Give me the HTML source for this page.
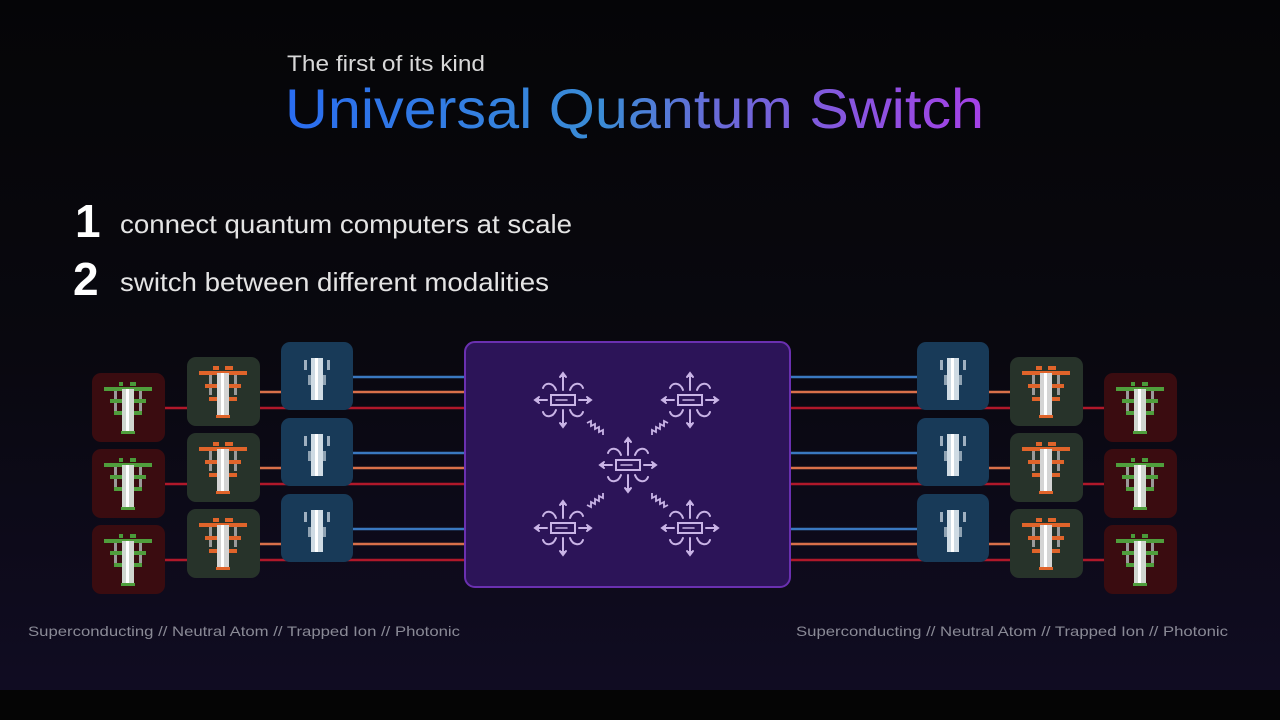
<!DOCTYPE html>
<html><head><meta charset="utf-8"><style>
html,body{margin:0;padding:0;background:#000;}
svg{display:block}
</style></head><body>
<svg width="1280" height="720" viewBox="0 0 1280 720" xmlns="http://www.w3.org/2000/svg">
<defs>
<linearGradient id="bg" x1="0" y1="0" x2="0" y2="1">
<stop offset="0" stop-color="#050507"/><stop offset="0.5" stop-color="#09080f"/><stop offset="1" stop-color="#100c22"/>
</linearGradient>
<linearGradient id="tg" x1="285" y1="0" x2="985" y2="0" gradientUnits="userSpaceOnUse">
<stop offset="0" stop-color="#2a6cf0"/><stop offset="0.45" stop-color="#3a8cd6"/><stop offset="0.62" stop-color="#6a6ad8"/><stop offset="1" stop-color="#a540e6"/>
</linearGradient>
<g id="redIcon">
<rect x="27" y="9" width="4" height="4" fill="#4a9a3a"/><rect x="38" y="9" width="6" height="4" fill="#4a9a3a"/>
<rect x="12" y="14" width="48" height="4" fill="#4f9e3c"/>
<rect x="22" y="18" width="3" height="22" fill="#9a9a9a"/><rect x="47" y="18" width="3" height="22" fill="#9a9a9a"/>
<rect x="18" y="26" width="36" height="4" fill="#4f9e3c"/>
<rect x="22" y="38" width="28" height="4" fill="#4f9e3c"/>
<rect x="30" y="16" width="12" height="44" fill="#cfd6cf"/><rect x="34" y="16" width="3" height="44" fill="#fff"/>
<rect x="29" y="58" width="14" height="3" fill="#4f9e3c"/>
</g>
<g id="greenIcon">
<rect x="26" y="9" width="6" height="4" fill="#e0642a"/><rect x="38" y="9" width="8" height="4" fill="#e0642a"/>
<rect x="12" y="14" width="48" height="4" fill="#e0642a"/>
<rect x="22" y="18" width="3" height="20" fill="#9a9a9a"/><rect x="47" y="18" width="3" height="20" fill="#9a9a9a"/>
<rect x="18" y="27" width="36" height="4" fill="#e0642a"/>
<rect x="22" y="40" width="28" height="4" fill="#e0642a"/>
<rect x="30" y="16" width="12" height="44" fill="#d4d4d4"/><rect x="34" y="16" width="3" height="44" fill="#fff"/>
<rect x="29" y="58" width="14" height="3" fill="#e0642a"/>
</g>
<g id="blueIcon">
<rect x="23" y="18" width="3" height="10" fill="#9fb0c0"/><rect x="46" y="18" width="3" height="10" fill="#9fb0c0"/>
<rect x="27" y="33" width="18" height="10" fill="#8fa2b2"/>
<rect x="30" y="16" width="12" height="42" fill="#cfdbe4"/><rect x="34" y="16" width="3" height="42" fill="#fff"/>
</g>
<g id="node" fill="none" stroke="#c9b4e6" stroke-width="2" stroke-linecap="round">
<rect x="-12" y="-5" width="24" height="10" fill="none"/>
<line x1="-7" y1="0" x2="4" y2="0" stroke-width="1.5"/>
<line x1="-16" y1="0" x2="-27" y2="0"/><path d="M-24,-3 L-28,0 L-24,3" fill="#c9b4e6"/>
<line x1="16" y1="0" x2="27" y2="0"/><path d="M24,-3 L28,0 L24,3" fill="#c9b4e6"/>
<line x1="0" y1="-10" x2="0" y2="-26"/><path d="M-3,-23 L0,-27 L3,-23" fill="#c9b4e6"/>
<line x1="0" y1="10" x2="0" y2="26"/><path d="M-3,23 L0,27 L3,23" fill="#c9b4e6"/>
<path d="M-7,-10 C-10,-18 -18,-18 -20,-12"/>
<path d="M7,-10 C10,-18 18,-18 20,-12"/>
<path d="M-7,10 C-10,18 -18,18 -20,12"/>
<path d="M7,10 C10,18 18,18 20,12"/>
</g>
</defs>
<rect width="1280" height="690" fill="url(#bg)"/>
<rect y="690" width="1280" height="30" fill="#050505"/>

<text x="287" y="71" font-family="Liberation Sans, sans-serif" font-size="22" fill="#d8d8d8" textLength="198" lengthAdjust="spacingAndGlyphs">The first of its kind</text>
<text x="285" y="128" font-family="Liberation Sans, sans-serif" font-size="56" fill="url(#tg)" textLength="699" lengthAdjust="spacingAndGlyphs">Universal Quantum Switch</text>

<text x="75" y="237" font-family="Liberation Sans, sans-serif" font-size="46" font-weight="bold" fill="#fff">1</text>
<text x="120" y="233" font-family="Liberation Sans, sans-serif" font-size="26" fill="#e4e4e4" textLength="452" lengthAdjust="spacingAndGlyphs">connect quantum computers at scale</text>
<text x="73" y="295" font-family="Liberation Sans, sans-serif" font-size="46" font-weight="bold" fill="#fff">2</text>
<text x="120" y="291" font-family="Liberation Sans, sans-serif" font-size="26" fill="#e4e4e4" textLength="429" lengthAdjust="spacingAndGlyphs">switch between different modalities</text>

<!-- lines -->
<g stroke-width="2.5">
<line x1="353" y1="377" x2="465" y2="377" stroke="#3a78c0"/>
<line x1="260" y1="392" x2="465" y2="392" stroke="#d9704a"/>
<line x1="165" y1="408" x2="465" y2="408" stroke="#b0182a"/>
<line x1="353" y1="453" x2="465" y2="453" stroke="#3a78c0"/>
<line x1="260" y1="468" x2="465" y2="468" stroke="#d9704a"/>
<line x1="165" y1="484" x2="465" y2="484" stroke="#b0182a"/>
<line x1="353" y1="529" x2="465" y2="529" stroke="#3a78c0"/>
<line x1="260" y1="544" x2="465" y2="544" stroke="#d9704a"/>
<line x1="165" y1="560" x2="465" y2="560" stroke="#b0182a"/>

<line x1="790" y1="377" x2="917" y2="377" stroke="#3a78c0"/>
<line x1="790" y1="392" x2="1010" y2="392" stroke="#d9704a"/>
<line x1="790" y1="408" x2="1104" y2="408" stroke="#b0182a"/>
<line x1="790" y1="453" x2="917" y2="453" stroke="#3a78c0"/>
<line x1="790" y1="468" x2="1010" y2="468" stroke="#d9704a"/>
<line x1="790" y1="484" x2="1104" y2="484" stroke="#b0182a"/>
<line x1="790" y1="529" x2="917" y2="529" stroke="#3a78c0"/>
<line x1="790" y1="544" x2="1010" y2="544" stroke="#d9704a"/>
<line x1="790" y1="560" x2="1104" y2="560" stroke="#b0182a"/>
</g>

<g>
<rect x="92" y="373" width="73" height="69" rx="9" fill="#3a0c10"/>
<rect x="92" y="449" width="73" height="69" rx="9" fill="#3a0c10"/>
<rect x="92" y="525" width="73" height="69" rx="9" fill="#3a0c10"/>
<rect x="187" y="357" width="73" height="69" rx="9" fill="#27332a"/>
<rect x="187" y="433" width="73" height="69" rx="9" fill="#27332a"/>
<rect x="187" y="509" width="73" height="69" rx="9" fill="#27332a"/>
<rect x="281" y="342" width="72" height="68" rx="9" fill="#183a58"/>
<rect x="281" y="418" width="72" height="68" rx="9" fill="#183a58"/>
<rect x="281" y="494" width="72" height="68" rx="9" fill="#183a58"/>
<use href="#redIcon" x="92" y="373"/><use href="#redIcon" x="92" y="449"/><use href="#redIcon" x="92" y="525"/>
<use href="#greenIcon" x="187" y="357"/><use href="#greenIcon" x="187" y="433"/><use href="#greenIcon" x="187" y="509"/>
<use href="#blueIcon" x="281" y="342"/><use href="#blueIcon" x="281" y="418"/><use href="#blueIcon" x="281" y="494"/>
</g>
<g>
<rect x="1104" y="373" width="73" height="69" rx="9" fill="#3a0c10"/>
<rect x="1104" y="449" width="73" height="69" rx="9" fill="#3a0c10"/>
<rect x="1104" y="525" width="73" height="69" rx="9" fill="#3a0c10"/>
<rect x="1010" y="357" width="73" height="69" rx="9" fill="#27332a"/>
<rect x="1010" y="433" width="73" height="69" rx="9" fill="#27332a"/>
<rect x="1010" y="509" width="73" height="69" rx="9" fill="#27332a"/>
<rect x="917" y="342" width="72" height="68" rx="9" fill="#183a58"/>
<rect x="917" y="418" width="72" height="68" rx="9" fill="#183a58"/>
<rect x="917" y="494" width="72" height="68" rx="9" fill="#183a58"/>
<use href="#redIcon" x="1104" y="373"/><use href="#redIcon" x="1104" y="449"/><use href="#redIcon" x="1104" y="525"/>
<use href="#greenIcon" x="1010" y="357"/><use href="#greenIcon" x="1010" y="433"/><use href="#greenIcon" x="1010" y="509"/>
<use href="#blueIcon" x="917" y="342"/><use href="#blueIcon" x="917" y="418"/><use href="#blueIcon" x="917" y="494"/>
</g>

<!-- switch -->
<rect x="465" y="342" width="325" height="245" rx="10" fill="#2c1458" stroke="#6a30b0" stroke-width="2"/>
<use href="#node" x="563" y="400"/>
<use href="#node" x="690" y="400"/>
<use href="#node" x="628" y="465"/>
<use href="#node" x="563" y="528"/>
<use href="#node" x="690" y="528"/>
<g fill="none" stroke="#c9b4e6" stroke-width="1.8">
<path d="M587,423 l4,-2 l0,5 l4,-2 l0,5 l4,-2 l0,5 l4,-2 l0,5"/>
<path d="M668,423 l-4,-2 l0,5 l-4,-2 l0,5 l-4,-2 l0,5 l-4,-2 l0,5"/>
<path d="M587,505 l4,2 l0,-5 l4,2 l0,-5 l4,2 l0,-5 l4,2 l0,-5"/>
<path d="M668,505 l-4,2 l0,-5 l-4,2 l0,-5 l-4,2 l0,-5 l-4,2 l0,-5"/>
</g>

<text x="28" y="636" font-family="Liberation Sans, sans-serif" font-size="14" fill="#8a8a96" textLength="432" lengthAdjust="spacingAndGlyphs">Superconducting // Neutral Atom // Trapped Ion // Photonic</text>
<text x="796" y="636" font-family="Liberation Sans, sans-serif" font-size="14" fill="#8a8a96" textLength="432" lengthAdjust="spacingAndGlyphs">Superconducting // Neutral Atom // Trapped Ion // Photonic</text>
</svg>
</body></html>
